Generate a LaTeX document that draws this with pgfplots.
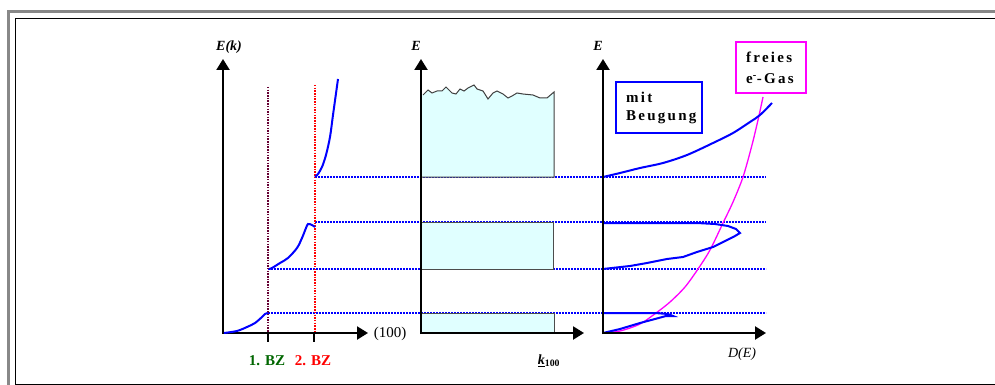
\documentclass[border=0pt]{standalone}
\usepackage{pgfplots}
\pgfplotsset{compat=1.18}
\usepackage{fontspec}
\setmainfont{Liberation Serif}
\newfontfamily\spaced[LetterSpace=15]{Liberation Serif}
\usetikzlibrary{arrows.meta}
\definecolor{bzone}{HTML}{660033}
\definecolor{bzgreen}{HTML}{006600}
\definecolor{boxfill}{HTML}{E0FFFF}
\definecolor{framegray}{HTML}{888888}
\definecolor{mag}{HTML}{FF00FF}
\begin{document}
\begin{tikzpicture}
\begin{axis}[name=ax, scale only axis, width=995pt, height=385pt,
  xmin=0, xmax=995, ymin=0, ymax=385, y dir=reverse,
  axis lines=none, clip=false,
  dotline/.style={blue, line width=1.6pt, dash pattern=on 1.6pt off 1.4pt, no marks},
  axarrow/.style={black, line width=2.2pt, no marks, -{Triangle[width=13pt,length=11pt]}},
  curve/.style={blue, line width=2pt, no marks, smooth},
]
% frame
\addplot[framegray, line width=3pt, no marks] coordinates {(8.5,386) (8.5,11.5) (996,11.5)};
\addplot[black, line width=1pt, no marks] coordinates {(996,18.5) (15.5,18.5) (15.5,384.5) (996,384.5)};

% horizontal dotted lines
\addplot[dotline] coordinates {(268,313) (766,313)};
\addplot[dotline] coordinates {(268,269) (766,269)};
\addplot[dotline] coordinates {(315,222) (766,222)};
\addplot[dotline] coordinates {(315,177) (766,177)};

% BZ lines
\addplot[bzone, line width=1.6pt, dash pattern=on 1.5pt off 1.2pt, no marks] coordinates {(268,87) (268,333)};
\addplot[red, line width=1.6pt, dash pattern=on 1.5pt off 1.2pt, no marks] coordinates {(315,85) (315,333)};

% panel 1 axes
\addplot[axarrow] coordinates {(223,333) (223,59)};
\addplot[axarrow] coordinates {(222,333) (368,333)};
\addplot[black, line width=1.5pt, no marks] coordinates {(268,333) (268,342)};
\addplot[black, line width=1.5pt, no marks] coordinates {(314,333) (314,342)};

% panel 1 bands
\addplot[curve] coordinates {(224,333) (237,331) (247,327) (255,323) (262,317) (265,314) (268,313)};
\addplot[curve] coordinates {(269,269) (272,268) (280,263) (288,258) (297,248) (302,238) (306,228) (308,224) (312,225) (315,227)};
\addplot[curve] coordinates {(315,177) (318,174) (322,167) (326,155) (330,137) (333,115) (338,79)};

% panel 2 boxes
\addplot[fill=boxfill, draw=black!70, line width=1pt, no marks] coordinates {(421,313) (554,313) (554,333) (421,333)} -- cycle;
\addplot[fill=boxfill, draw=black!70, line width=1pt, no marks] coordinates {(421,222) (553,222) (553,269) (421,269)} -- cycle;
\addplot[fill=boxfill, draw=none, no marks] coordinates {(421,177) (421,95) (423,95) (428,90) (432,93) (437,91) (442,91) (446,87) (452,93) (456,94) (460,89) (464,91) (468,88) (474,85) (477,89) (483,91) (488,99) (493,93) (497,91) (503,94) (508,98) (512,96) (517,93) (523,94) (533,95) (540,98) (547,98) (554,92) (554,177)} -- cycle;
\addplot[black!75, line width=1pt, no marks] coordinates {(423,95) (428,90) (432,93) (437,91) (442,91) (446,87) (452,93) (456,94) (460,89) (464,91) (468,88) (474,85) (477,89) (483,91) (488,99) (493,93) (497,91) (503,94) (508,98) (512,96) (517,93) (523,94) (533,95) (540,98) (547,98) (554,92) (554,177) (421,177)};

% panel 2 axes
\addplot[axarrow] coordinates {(421,334) (421,59)};
\addplot[axarrow] coordinates {(420,333) (584,333)};

% panel 3: free electron gas
\addplot[mag, line width=1.3pt, no marks, smooth] coordinates {(603,333) (620,331) (640,324) (656,313) (670,302) (685,287) (698,269) (710,250) (723,223) (733,202) (743,177) (752,145) (758,120) (763,97)};

% panel 3 DOS
\addplot[blue, line width=2pt, no marks] coordinates {(603,333) (620,329) (640,323) (655,319) (666,316) (673,316) (668,314) (655,313) (640,313) (603,313)};
\addplot[blue, line width=2pt, no marks] coordinates {(603,269) (630,266) (647,263) (667,259) (683,257) (697,252) (713,247) (727,240) (735,236) (740,233) (736,229) (728,226) (715,224) (697,223) (603,223)};
\addplot[curve] coordinates {(603,177) (620,173) (640,168) (663,163) (687,155) (713,143) (733,133) (750,122) (760,115) (772,103)};

% panel 3 axes
\addplot[axarrow] coordinates {(603,334) (603,59)};
\addplot[axarrow] coordinates {(602,333) (766,333)};

% boxes with text
\addplot[blue, line width=1.5pt, no marks] coordinates {(616,82) (702,82) (702,133) (616,133)} -- cycle;
\addplot[mag, line width=1.5pt, no marks] coordinates {(806,42) (736,42) (736,93) (806,93)} -- cycle;
\node[anchor=west, align=left, font=\spaced\fontsize{15}{18}\selectfont\bfseries, inner sep=0pt] at (axis cs:626,108) {mit\\Beugung};
\node[anchor=west, align=left, font=\spaced\fontsize{15}{21}\selectfont\bfseries, inner sep=0pt] at (axis cs:746,68) {freies\\e\textsuperscript{-}-Gas};

% labels
\node[font=\fontsize{14}{16}\selectfont\bfseries\itshape] at (axis cs:229,47) {E(k)};
\node[font=\fontsize{14}{16}\selectfont\bfseries\itshape] at (axis cs:416,46) {E};
\node[font=\fontsize{14}{16}\selectfont\bfseries\itshape] at (axis cs:598,46) {E};
\node[font=\fontsize{15}{17}\selectfont] at (axis cs:390,334) {(100)};
\node[font=\fontsize{15}{16}\selectfont\bfseries, text=bzgreen] at (axis cs:267,361) {1. BZ};
\node[font=\fontsize{15}{16}\selectfont\bfseries, text=red] at (axis cs:313,361) {2. BZ};
\node[font=\fontsize{14}{16}\selectfont\bfseries] at (axis cs:549,361) {\underline{\textit{k}}\textsubscript{100}};
\node[font=\fontsize{14}{16}\selectfont\itshape] at (axis cs:742,354) {D(E)};
\end{axis}
\pgfresetboundingbox
\path (ax.south west) rectangle (ax.north east);
\end{tikzpicture}
\end{document}
